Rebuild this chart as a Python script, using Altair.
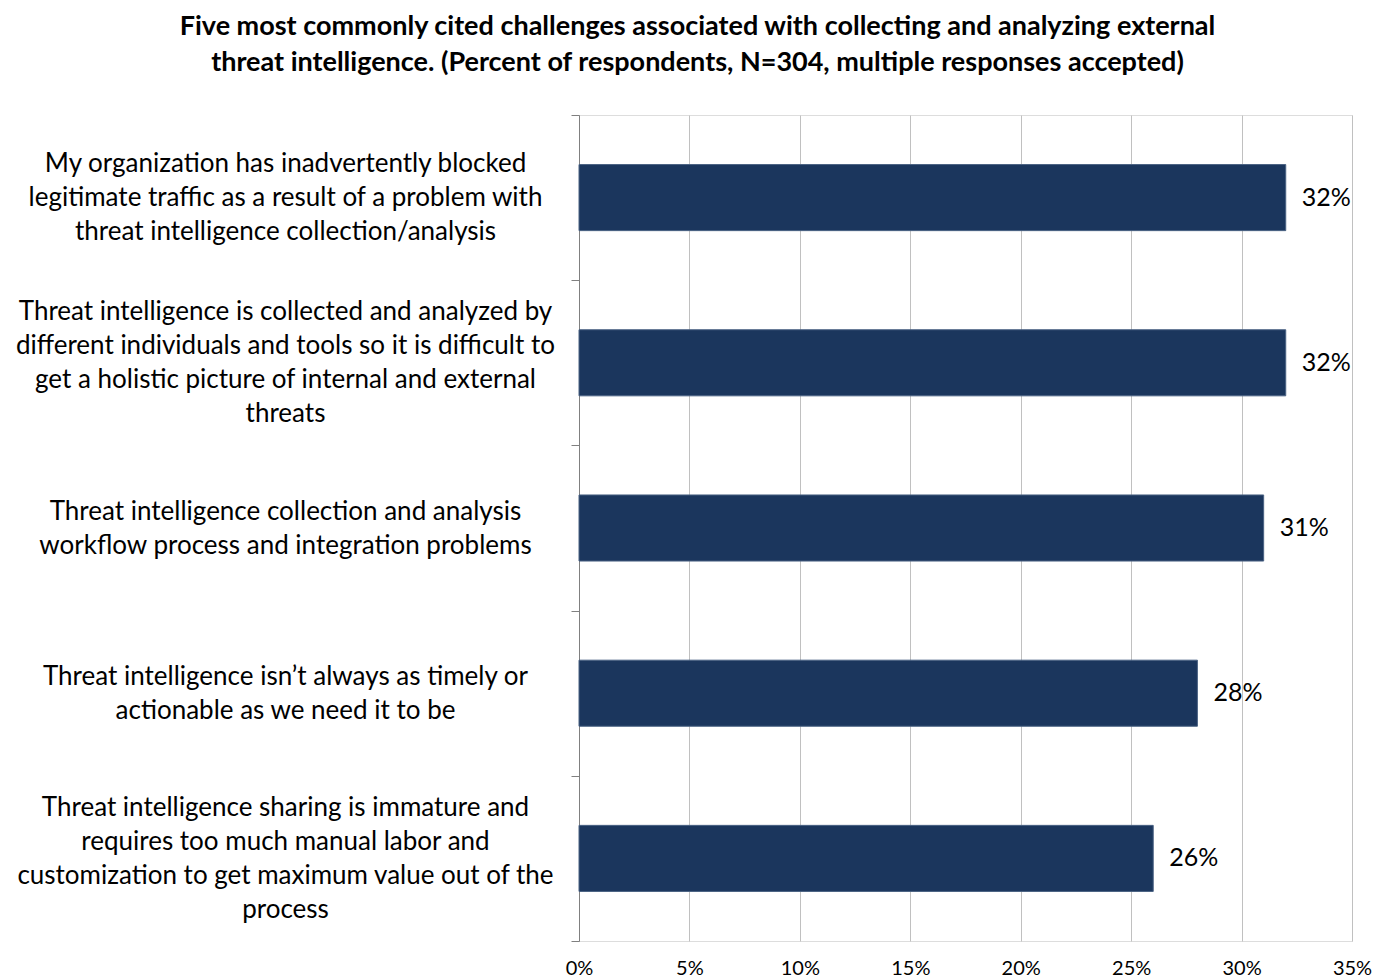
import altair as alt
import pandas as pd

# Survey responses: challenge text (lines separated by "|") and share of respondents
challenges = [
    "My organization has inadvertently blocked|legitimate traffic as a result of a problem with|threat intelligence collection/analysis",
    "Threat intelligence is collected and analyzed by|different individuals and tools so it is difficult to|get a holistic picture of internal and external|threats",
    "Threat intelligence collection and analysis|workflow process and integration problems",
    "Threat intelligence isn\u2019t always as timely or|actionable as we need it to be",
    "Threat intelligence sharing is immature and|requires too much manual labor and|customization to get maximum value out of the|process",
]
shares = [0.32, 0.32, 0.31, 0.28, 0.26]
x_ticks = [0, 0.05, 0.10, 0.15, 0.20, 0.25, 0.30, 0.35]

df = pd.DataFrame({"challenge": challenges, "share": shares})
df["label"] = [f"{round(v * 100)}%" for v in shares]

FONT = "Lato"
NAVY = "#1b365d"
LINE_H = 34

y_enc = alt.Y(
    "challenge:N",
    sort=challenges,
    title=None,
    scale=alt.Scale(paddingInner=0, paddingOuter=0),
    axis=alt.Axis(
        labelExpr="split(datum.label, '|')",
        labelAlign="center",
        labelBaseline="middle",
        # shift each multi-line label up so the whole block sits on the band centre
        labelOffset={"expr": f"-(length(split(datum.label, '|')) - 1) * {LINE_H / 2}"},
        labelPadding=286,
        labelLimit=0,
        labelFont=FONT,
        labelFontSize=26,
        labelLineHeight=LINE_H,
        labelColor="#000000",
        tickBand="extent",
        tickSize=8,
        tickColor="#808080",
        domainColor="#808080",
        grid=False,
    ),
)

x_enc = alt.X(
    "share:Q",
    title=None,
    scale=alt.Scale(domain=[0, 0.35], nice=False),
    axis=alt.Axis(
        values=x_ticks,
        format=".0%",
        ticks=False,
        domain=False,
        grid=True,
        gridColor="#c0c0c0",
        gridWidth=1,
        labelFont=FONT,
        labelFontSize=20,
        labelColor="#000000",
        labelPadding=17,
        labelFlush=False,
    ),
)

bars = alt.Chart(df).mark_bar(
    color=NAVY, stroke="#4a6283", strokeWidth=1, height=alt.RelativeBandSize(0.4)
).encode(x=x_enc, y=y_enc)

values = alt.Chart(df).mark_text(
    align="left", baseline="middle", dx=16, font=FONT, fontSize=25, color="#000000"
).encode(x="share:Q", y=alt.Y("challenge:N", sort=challenges), text="label:N")

chart = (
    alt.layer(bars, values)
    .properties(
        width=773,
        height=826,
        title=alt.TitleParams(
            text=[
                "Five most commonly cited challenges associated with collecting and analyzing external",
                "threat intelligence. (Percent of respondents, N=304, multiple responses accepted)",
            ],
            font=FONT,
            fontSize=27,
            fontWeight="bold",
            color="#000000",
            anchor="middle",
            lineHeight=36,
            dx=-268,
            offset=25,
        ),
        autosize=alt.AutoSizeParams(type="none"),
        padding={"left": 579, "top": 115, "right": 22, "bottom": 38},
    )
    .configure_view(stroke=None)
    .configure(background="#ffffff")
)

chart.save("out.html", embed_options={"renderer": "svg", "actions": False})
